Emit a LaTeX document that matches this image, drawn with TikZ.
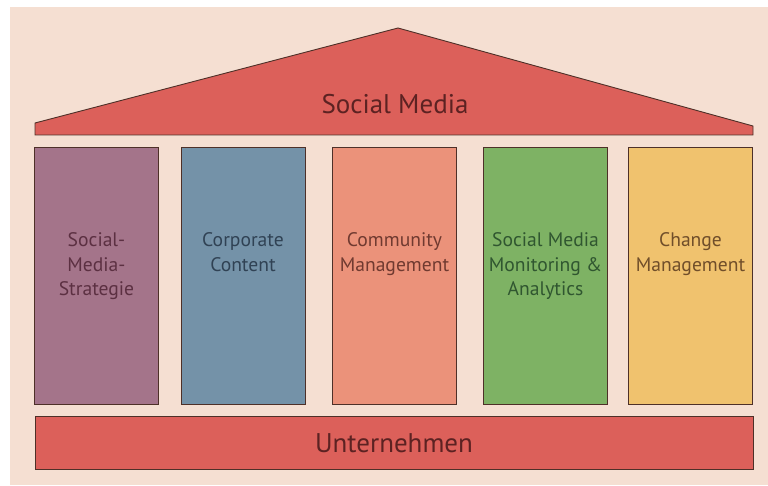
\documentclass[tikz,border=0pt]{standalone}
\usepackage{fontspec}
\setmainfont{PT Sans}
\usepackage{tikz}
\usetikzlibrary{positioning}

\definecolor{papier}{RGB}{245,223,210}
\definecolor{rand}{RGB}{78,48,40}
\definecolor{dachrot}{RGB}{220,96,90}
\definecolor{dachtext}{RGB}{92,34,34}
\definecolor{lila}{RGB}{164,116,138}
\definecolor{lilatext}{RGB}{92,48,66}
\definecolor{blau}{RGB}{116,146,168}
\definecolor{blautext}{RGB}{48,66,84}
\definecolor{lachs}{RGB}{235,146,122}
\definecolor{lachstext}{RGB}{112,58,48}
\definecolor{gruen}{RGB}{126,178,100}
\definecolor{gruentext}{RGB}{48,86,48}
\definecolor{gelb}{RGB}{240,194,110}
\definecolor{gelbtext}{RGB}{112,78,42}

\tikzstyle{saeule}=[draw=rand,line width=0.9pt,minimum width=124pt,minimum height=257pt,inner sep=0pt]
\tikzstyle{saeulentext}=[align=center,inner sep=0pt,font=\fontsize{19.6}{24.5}\selectfont]
\tikzstyle{balken}=[draw=rand,line width=0.9pt,fill=dachrot,minimum width=718pt,minimum height=53pt,inner sep=0pt]

\begin{document}
\begin{tikzpicture}[x=1pt,y=-1pt]
\useasboundingbox (0,0) rectangle (768,486);
\fill[white] (0,0) rectangle (768,486);
\fill[papier] (10,7) rectangle (768,485);

% Dach
\draw[draw=rand,line width=0.9pt,fill=dachrot] (35,135) -- (35,123) -- (398,28) -- (753,126) -- (753,135) -- cycle;
\path (395,104) node[font=\fontsize{27}{30}\selectfont,text=dachtext] (dach) {Social Media};

% Saeulen
\path (96.5,275.5) node[saeule,fill=lila] (strategie) {};
\path (243,275.5) node[saeule,fill=blau] (content) {};
\path (394.5,275.5) node[saeule,fill=lachs] (community) {};
\path (545.5,275.5) node[saeule,fill=gruen] (monitoring) {};
\path (690.5,275.5) node[saeule,fill=gelb] (change) {};

\node[saeulentext,text=lilatext,below=86pt of strategie.north] (strategietext) {Social-\\Media-\\Strategie};
\node[saeulentext,text=blautext,below=86pt of content.north] (contenttext) {Corporate\\Content};
\node[saeulentext,text=lachstext,below=86pt of community.north] (communitytext) {Community\\Management};
\node[saeulentext,text=gruentext,below=86pt of monitoring.north] (monitoringtext) {Social Media\\Monitoring \&\\Analytics};
\node[saeulentext,text=gelbtext,below=86pt of change.north] (changetext) {Change\\Management};

% Fundament
\path (394,443) node[balken,text=dachtext,font=\fontsize{27}{30}\selectfont] (unternehmen) {Unternehmen};

\end{tikzpicture}
\end{document}
